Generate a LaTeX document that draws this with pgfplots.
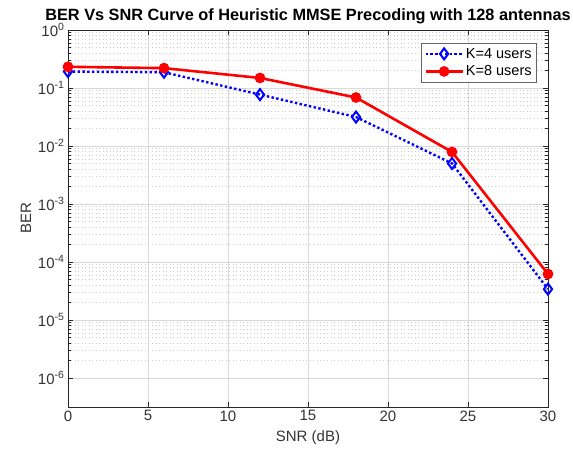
\documentclass[border=0pt]{standalone}
\usepackage{fontspec}
\setmainfont{Liberation Sans}
\usepackage{pgfplots}
\pgfplotsset{compat=1.18}
\begin{document}
\begin{tikzpicture}
\begin{semilogyaxis}[name=ax, scale only axis, width=480pt, height=377pt,
  xmin=0, xmax=30, ymin=3.16e-7, ymax=1,
  xtick={0,5,10,15,20,25,30},
  ytick={1e-6,1e-5,1e-4,1e-3,1e-2,1e-1,1},
  yticklabels={10\textsuperscript{-6},10\textsuperscript{-5},10\textsuperscript{-4},10\textsuperscript{-3},10\textsuperscript{-2},10\textsuperscript{-1},10\textsuperscript{0}},
  xticklabel style={/pgf/number format/assume math mode=true},
  xmajorgrids, ymajorgrids, yminorgrids,
  major grid style={black!15, line width=0.6pt},
  minor grid style={black!20, dash pattern=on 1pt off 2.5pt, line width=0.6pt},
  tick align=inside, tick pos=both,
  major tick length=5pt, minor tick length=3pt,
  axis line style={black!85, line width=0.8pt},
  every tick/.style={black!85, line width=0.7pt},
  ticklabel style={font=\fontsize{15}{17}\selectfont, text=black!80},
  xlabel={SNR (dB)}, ylabel={BER},
  label style={font=\fontsize{15}{18}\selectfont, text=black!80},
  xlabel style={yshift=-3pt},
  ylabel style={yshift=0pt},
  title={BER Vs SNR Curve of Heuristic MMSE Precoding with 128 antennas},
  title style={font=\bfseries\fontsize{16.3}{19}\selectfont, yshift=-3pt},
  legend style={at={(rel axis cs:0.977,0.966)}, anchor=north east,
    font=\fontsize{14.5}{17}\selectfont, draw=black!60, line width=0.7pt,
    inner sep=3pt, row sep=2pt},
  legend image code/.code={%
    \draw[mark repeat=2,mark phase=2] plot coordinates {(0cm,0cm) (0.65cm,0cm) (1.3cm,0cm)};},
  legend cell align=left,
]
\addplot[blue, line width=2.4pt, dash pattern=on 2.4pt off 2.4pt, mark=diamond, mark size=5.5pt,
  mark options={solid, line width=2pt, fill=white}]
  coordinates {(0,0.192) (6,0.187) (12,0.077) (18,0.0316) (24,0.005) (30,3.4e-5)};
\addlegendentry{K=4 users}
\addplot[red, line width=2.6pt, mark=*, mark size=4pt, mark options={solid}]
  coordinates {(0,0.232) (6,0.22) (12,0.149) (18,0.0686) (24,0.0079) (30,6.2e-5)};
\addlegendentry{K=8 users}
\end{semilogyaxis}
\pgfresetboundingbox
\path ([xshift=-68pt,yshift=-47pt]ax.south west) rectangle ([xshift=25pt,yshift=30pt]ax.north east);
\end{tikzpicture}
\end{document}
